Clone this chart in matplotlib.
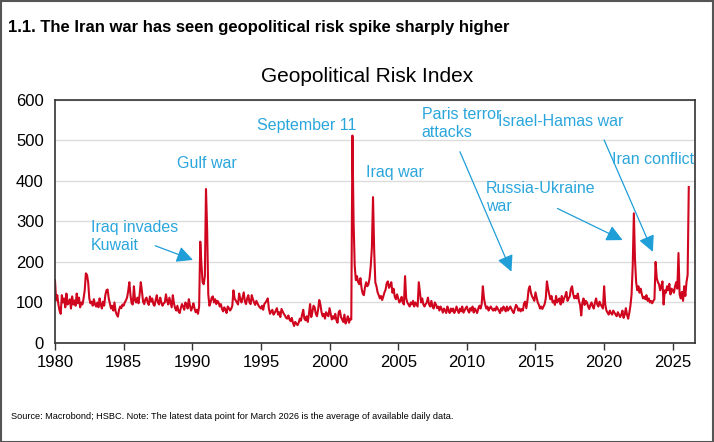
import matplotlib
matplotlib.use("Agg")
import matplotlib.pyplot as plt
import numpy as np
from matplotlib.patches import Rectangle

plt.rcParams['font.family'] = ['Liberation Sans', 'DejaVu Sans']

# monthly Geopolitical Risk Index, Jan 1980 - Mar 2026
gpr_1980s = [
    155, 105, 118, 95, 80, 72, 118, 100, 110, 88, 122, 95,
    100, 108, 85, 115, 95, 105, 92, 122, 98, 112, 88, 100,
    95, 110, 130, 172, 168, 150, 110, 98, 102, 92, 108, 95,
    90, 100, 88, 110, 95, 85, 102, 92, 118, 130, 132, 110,
    98, 85, 92, 80, 100, 78, 70, 65, 82, 90, 86, 95,
    92, 100, 105, 112, 128, 150, 118, 98, 95, 140, 105, 100,
    112, 98, 120, 150, 128, 102, 96, 108, 112, 100, 94, 115,
    102, 110, 96, 92, 106, 118, 100, 95, 112, 100, 92, 98,
    100, 120, 104, 95, 112, 100, 88, 118, 98, 86, 80, 92,
    78, 74, 86, 96, 90, 82, 100, 95, 85, 108, 92, 80,
]
gpr_1990s = [
    88, 98, 85, 76, 82, 72, 90, 250, 195, 150, 145, 165,
    380, 280, 120, 92, 100, 112, 115, 100, 108, 96, 104, 100,
    90, 96, 84, 78, 88, 82, 74, 90, 86, 80, 84, 92,
    130, 110, 105, 100, 95, 122, 108, 100, 112, 125, 102, 96,
    110, 118, 100, 96, 118, 108, 100, 94, 104, 98, 92, 88,
    85, 92, 82, 96, 100, 104, 110, 84, 72, 78, 82, 70,
    74, 80, 86, 70, 76, 64, 84, 78, 72, 68, 62, 60,
    68, 58, 54, 62, 50, 42, 52, 48, 44, 50, 60, 55,
    70, 82, 60, 56, 66, 52, 72, 96, 64, 76, 92, 88,
    72, 66, 82, 106, 95, 76, 66, 72, 60, 76, 70, 66,
]
gpr_2000s = [
    86, 72, 58, 66, 60, 72, 56, 50, 76, 80, 64, 58,
    52, 70, 48, 56, 66, 50, 60, 58, 512, 300, 190, 155,
    165, 150, 145, 160, 135, 122, 118, 138, 150, 140, 145, 160,
    190, 235, 360, 230, 150, 140, 125, 118, 110, 116, 106, 115,
    125, 132, 148, 152, 136, 142, 150, 124, 134, 114, 108, 120,
    110, 100, 104, 114, 100, 95, 165, 110, 100, 95, 90, 100,
    95, 104, 90, 100, 95, 90, 150, 124, 100, 110, 95, 90,
    96, 100, 112, 95, 90, 104, 90, 85, 100, 95, 86, 90,
    80, 90, 84, 75, 85, 80, 74, 90, 80, 74, 85, 78,
    85, 74, 80, 90, 80, 74, 85, 78, 90, 75, 80, 86,
]
gpr_2010s = [
    90, 80, 75, 86, 80, 90, 75, 85, 80, 74, 85, 92,
    85, 96, 140, 110, 95, 85, 90, 80, 86, 90, 84, 80,
    85, 80, 90, 85, 80, 74, 86, 80, 90, 85, 78, 90,
    80, 85, 90, 84, 78, 74, 85, 94, 90, 80, 85, 78,
    84, 80, 98, 102, 86, 105, 132, 140, 124, 115, 110, 104,
    125, 112, 100, 94, 85, 90, 84, 90, 96, 110, 152, 134,
    120, 108, 116, 100, 104, 94, 116, 100, 106, 110, 95, 116,
    100, 110, 116, 126, 104, 110, 115, 134, 140, 120, 110, 116,
    110, 122, 104, 94, 68, 100, 110, 94, 104, 100, 90, 84,
    94, 100, 90, 85, 100, 110, 95, 90, 102, 95, 90, 85,
]
gpr_2020s = [
    140, 95, 80, 75, 70, 80, 74, 70, 80, 75, 70, 66,
    76, 70, 64, 70, 80, 62, 70, 86, 70, 60, 74, 92,
    120, 190, 320, 205, 150, 130, 140, 124, 134, 120, 110, 114,
    108, 118, 104, 110, 100, 104, 98, 104, 108, 200, 160, 150,
    145, 130, 140, 152, 95, 130, 124, 140, 130, 146, 120, 134,
    130, 124, 140, 150, 134, 222, 120, 110, 126, 104, 140, 116,
    150, 168, 385,
]

gpr = np.array(gpr_1980s + gpr_1990s + gpr_2000s + gpr_2010s + gpr_2020s, dtype=float)
t = 1980 + np.arange(len(gpr)) / 12.0

x_ticks = list(range(1980, 2030, 5))
y_ticks = [0, 100, 200, 300, 400, 500, 600]

# events: label, text centre, optional arrow (start, tip)
events = [
    ("Iraq invades\nKuwait", (1985.8, 263), ((1987.3, 240), (1990.05, 205))),
    ("Gulf war", (1991.05, 444), None),
    ("September 11", (1998.3, 538), None),
    ("Iraq war", (2004.75, 422), None),
    ("Paris terror\nattacks", (2009.6, 541), ((2009.5, 472), (2013.25, 176))),
    ("Israel-Hamas war", (2016.85, 546), ((2020.0, 501), (2023.55, 225))),
    ("Iran conflict", (2023.6, 452), None),
    ("Russia-Ukraine\nwar", (2015.4, 358), ((2016.6, 332), (2021.35, 254))),
]

txt_blue = '#2ba6dc'
arrow_blue = '#1f9ed8'
line_red = '#d0061f'

fig = plt.figure(figsize=(7.14, 4.42), dpi=100)
ax = fig.add_axes([0.077, 0.224, 0.896, 0.550])

ax.plot(t, gpr, color=line_red, lw=1.5)

ax.set_xlim(1980, 2026.6)
ax.set_ylim(0, 600)
ax.set_xticks(x_ticks)
ax.set_yticks(y_ticks)
ax.tick_params(axis='x', direction='out', length=5, width=1, color='#333333',
               labelsize=12, pad=4)
ax.tick_params(axis='y', length=0, labelsize=12, pad=8)
for s in ax.spines.values():
    s.set_color('#333333')
    s.set_linewidth(1.2)
ax.grid(axis='y', color='#dcdcdc', lw=1)
ax.set_axisbelow(True)

for label, (tx, ty), arr in events:
    ax.text(tx, ty, label, color=txt_blue, fontsize=11.5, ha='center', va='center',
            multialignment='left', linespacing=1.25, clip_on=False)
    if arr is not None:
        ax.annotate('', xy=arr[1], xytext=arr[0],
                    arrowprops=dict(arrowstyle='-|>,head_length=0.7,head_width=0.35',
                                    color=arrow_blue, lw=0.9, shrinkA=0, shrinkB=0,
                                    mutation_scale=14))

fig.text(0.366, 0.828, "Geopolitical Risk Index", fontsize=15, ha='left', va='center')
fig.text(0.011, 0.937, "1.1. The Iran war has seen geopolitical risk spike sharply higher",
         fontsize=12, fontweight='bold', va='center', ha='left')
fig.text(0.016, 0.057, "Source: Macrobond; HSBC. Note: The latest data point for March 2026 is the average of available daily data.",
         fontsize=6.6, va='center', ha='left')

fig.patches.append(Rectangle((0.001, 0.001), 0.997, 0.997, transform=fig.transFigure,
                             fill=False, edgecolor='#555555', lw=1.5))

fig.savefig("out.png", dpi=100)
